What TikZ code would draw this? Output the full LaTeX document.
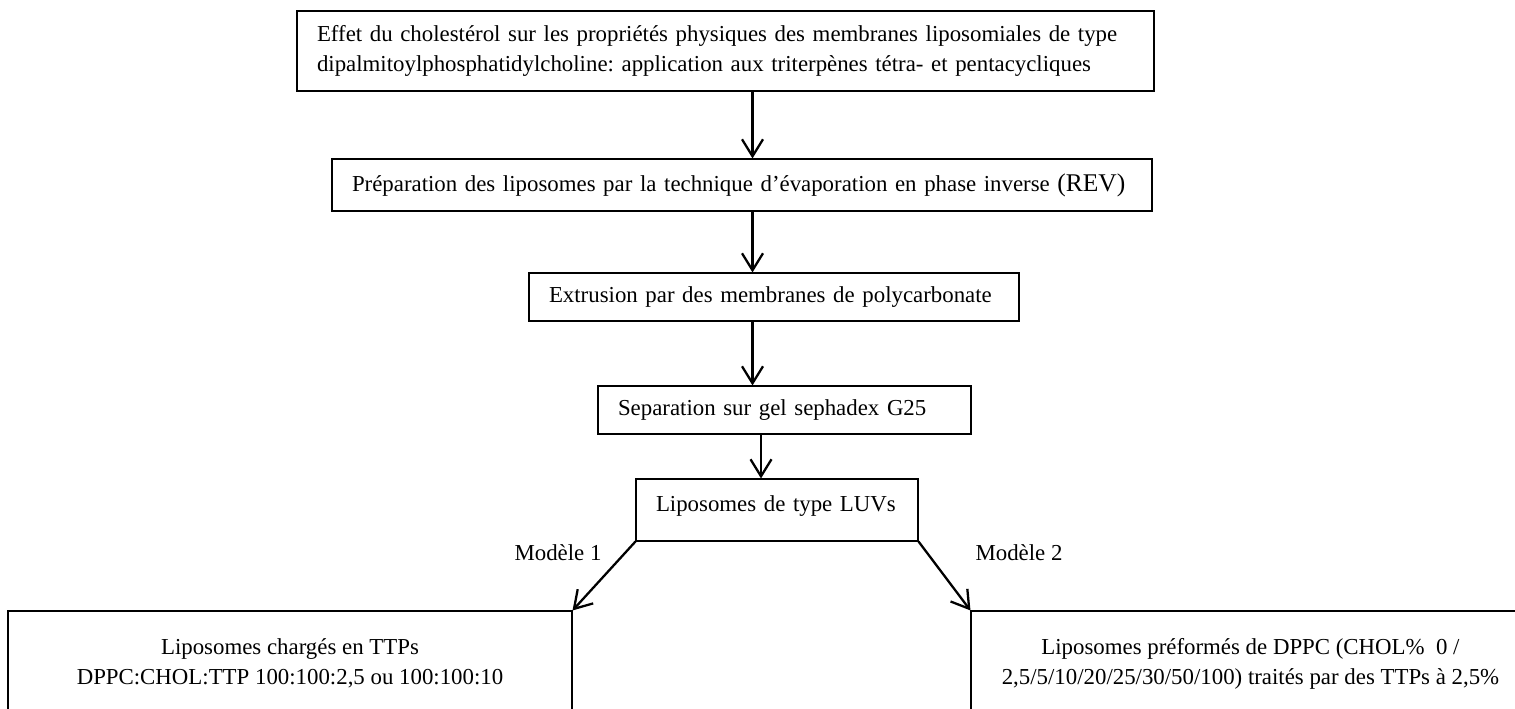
\documentclass[tikz,border=0pt]{standalone}
\usepackage{fontspec}
\setmainfont{Liberation Serif}
\usetikzlibrary{arrows.meta}
\frenchspacing

\tikzset{
	etape/.style={draw, line width=0.6pt, inner xsep=0.4cm, inner ysep=0pt, align=left},
	bas/.style={draw, line width=0.6pt, align=center, minimum height=2.1cm},
	fleche/.style={-{Straight Barb[length=0.34cm,width=0.42cm]}, line width=1.3pt}
}

\begin{document}
\begin{tikzpicture}[font=\fontsize{13}{17}\selectfont]

				\useasboundingbox (0,0) rectangle (30.3,14.18);
				\clip (0,0) rectangle (30.3,14.18);

				\node [etape, text width=16.34cm, minimum height=1.6cm] (T) at (14.51, 13.16) {Effet du cholestérol sur les propriétés physiques des membranes liposomiales de type\\dipalmitoylphosphatidylcholine: application aux triterpènes tétra- et pentacycliques};
				\node [etape, text width=15.6cm, minimum height=1.04cm] (P) at (14.84, 10.48) {\mbox{Préparation des liposomes par la technique d’évaporation en phase inverse {\fontsize{14.5}{17}\selectfont(REV)}}};
				\node [etape, text width=9.0cm, minimum height=0.96cm] (E) at (15.48, 8.24) {Extrusion par des membranes de polycarbonate};
				\node [etape, text width=6.66cm, minimum height=0.96cm] (S) at (15.69, 5.98) {Separation sur gel sephadex G25};
				\node [etape, text width=4.84cm, minimum height=1.24cm, text depth=0.25cm] (L) at (15.54, 3.98) {Liposomes de type LUVs};

				%------
				\node [bas, minimum width=11.28cm] (M1) at (5.80, 0.91) {Liposomes chargés en TTPs\\DPPC:CHOL:TTP 100:100:2,5 ou 100:100:10};
				\node [bas, minimum width=11.18cm] (M2) at (25.01, 0.91) {Liposomes préformés de DPPC (CHOL\%\ \ 0 /\\2,5/5/10/20/25/30/50/100) traités par des TTPs à 2,5\%};

				\node (lab1) at (11.16, 3.12) {Modèle 1};
				\node (lab2) at (20.38, 3.12) {Modèle 2};

				%------
				\coordinate (axe) at (15.05, 0);
				\coordinate (axe2) at (15.22, 0);

				\draw [fleche] (T.south -| axe) -- (P.north -| axe);
				\draw [fleche] (P.south -| axe) -- (E.north -| axe);
				\draw [fleche] (E.south -| axe) -- (S.north -| axe);
				\draw [fleche] (S.south -| axe2) -- (L.north -| axe2);
				\draw [fleche] (L.south west) -- (M1.north east);
				\draw [fleche] (L.south east) -- (M2.north west);
		\end{tikzpicture}
\end{document}
